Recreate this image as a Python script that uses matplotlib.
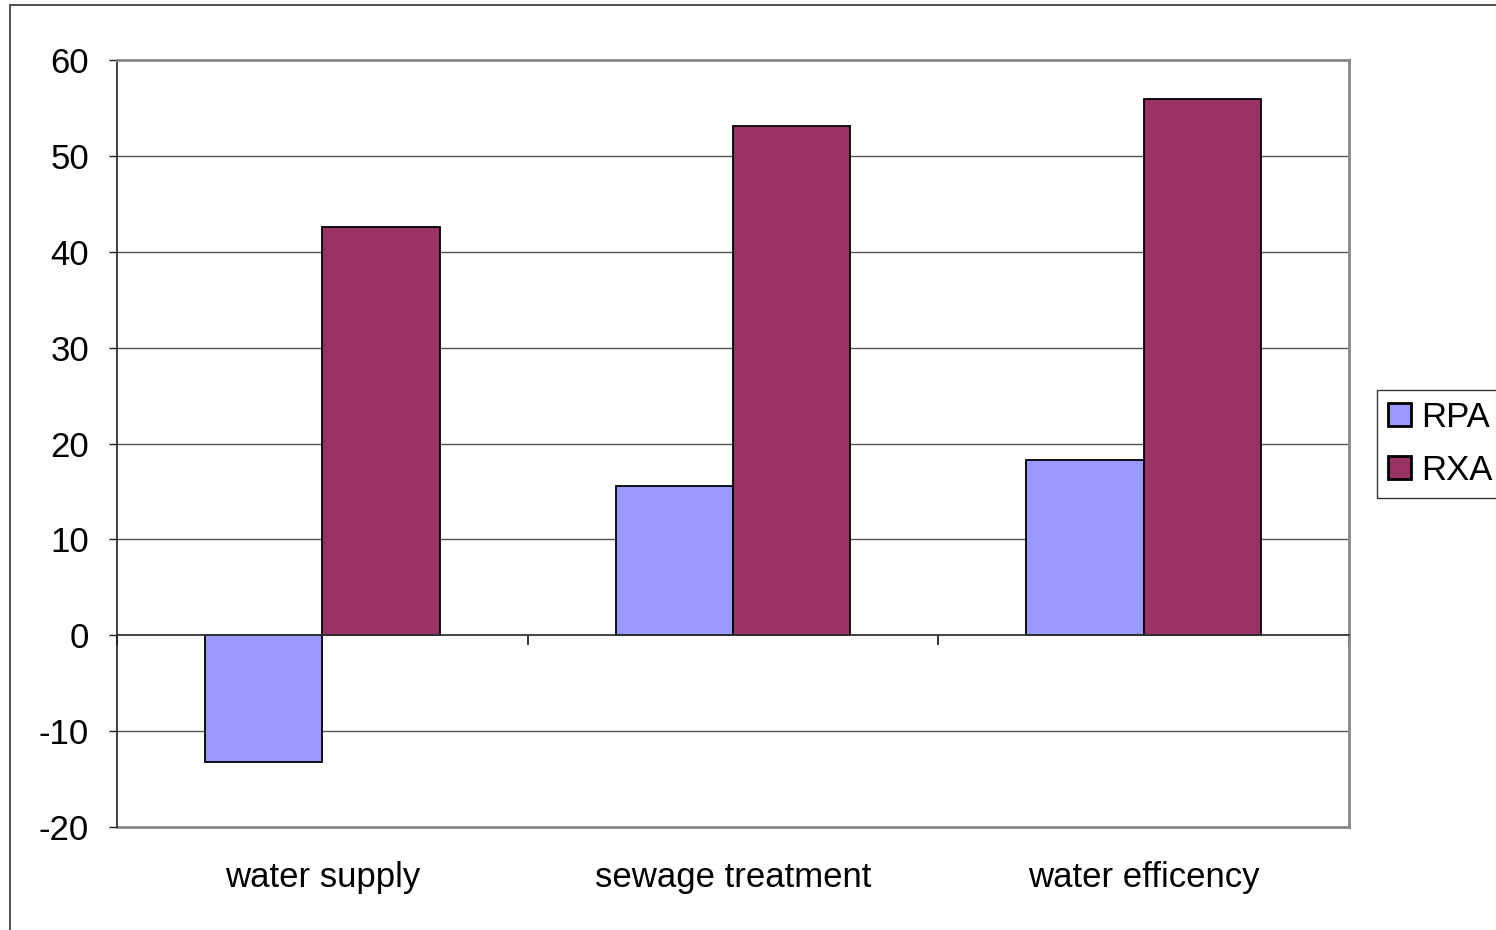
import matplotlib
matplotlib.use("Agg")
import matplotlib.pyplot as plt
from matplotlib.patches import Rectangle
import numpy as np

categories = ["water supply", "sewage treatment", "water efficency"]
series_names = ["RPA", "RXA"]
rpa_values = [-13.2, 15.6, 18.3]
rxa_values = [42.6, 53.1, 55.9]
y_ticks = [-20, -10, 0, 10, 20, 30, 40, 50, 60]

colors = ["#9999FF", "#993366"]

plt.rcParams["font.family"] = ["Liberation Sans", "DejaVu Sans"]
plt.rcParams["axes.unicode_minus"] = False

W, H = 1496, 930
fig = plt.figure(figsize=(W / 100, H / 100), dpi=100)

# outer chart frame (extends beyond right/bottom edges)
fig.patches.append(Rectangle((10 / W, -0.1), 1.2, (H - 5) / H + 0.1,
                             transform=fig.transFigure, fill=False,
                             edgecolor="#333333", linewidth=1.2))

ax = fig.add_axes([117 / W, (H - 827) / H, 1232 / W, 767 / H])

x = np.arange(len(categories))
bw = 1 / 3.5
ax.bar(x - bw / 2, rpa_values, bw, color=colors[0], edgecolor="black",
       linewidth=1.3, label=series_names[0], zorder=3)
ax.bar(x + bw / 2, rxa_values, bw, color=colors[1], edgecolor="black",
       linewidth=1.3, label=series_names[1], zorder=3)

ax.set_xlim(-0.5, len(categories) - 0.5)
ax.set_ylim(y_ticks[0], y_ticks[-1])
ax.set_yticks(y_ticks)
ax.tick_params(axis="y", direction="out", length=6, width=1, color="#222222",
               labelsize=25, pad=14)

# horizontal gridlines
for t in y_ticks[1:-1]:
    if t != 0:
        ax.axhline(t, color="#555555", linewidth=1, zorder=1)

# category axis sits on the zero line
ax.spines["bottom"].set_position(("data", 0))
ax.spines["bottom"].set_color("#333333")
ax.spines["bottom"].set_linewidth(1.3)
ax.spines["bottom"].set_zorder(4)
ax.set_xticks(np.arange(-0.5, len(categories), 1.0))
ax.set_xticklabels([])
ax.tick_params(axis="x", direction="out", length=7, width=1.3, color="#222222")

ax.spines["left"].set_color("#222222")
ax.spines["left"].set_linewidth(1.2)
for s in ["top", "right"]:
    ax.spines[s].set_color("#888888")
    ax.spines[s].set_linewidth(2)
ax.plot([0, 1], [0, 0], transform=ax.transAxes, color="#888888",
        linewidth=2, clip_on=False, zorder=2)

# category labels below the plot area
for xi, name in zip(x, categories):
    ax.text(xi, -50 / 767, name, transform=ax.get_xaxis_transform(),
            ha="center", va="center", fontsize=25)

leg = fig.legend(loc="center left", bbox_to_anchor=(1377 / W, 1 - 444 / H),
                 fontsize=25, frameon=True, fancybox=False, handlelength=0.65,
                 handleheight=0.65, handletextpad=0.3, borderpad=0.32,
                 labelspacing=0.58, borderaxespad=0)
leg.get_frame().set_edgecolor("black")
leg.get_frame().set_linewidth(1)
for h in leg.legend_handles:
    h.set_linewidth(2)

fig.savefig("out.png", dpi=100, facecolor="white")
